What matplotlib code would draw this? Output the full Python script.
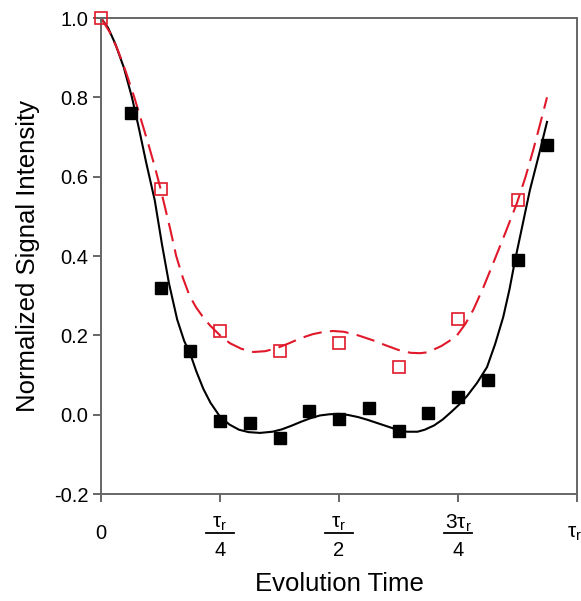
import matplotlib
matplotlib.use("Agg")
import matplotlib.pyplot as plt
from matplotlib.lines import Line2D

plt.rcParams['font.family'] = ['Liberation Sans', 'DejaVu Sans']

# Evolution time in units of the rotor period tau_r
t_filled = [1/16, 2/16, 3/16, 4/16, 5/16, 6/16, 7/16,
            8/16, 9/16, 10/16, 11/16, 12/16, 13/16, 14/16, 15/16]
s_filled = [0.76, 0.32, 0.16, -0.015, -0.02, -0.06, 0.01,
            -0.01, 0.016, -0.04, 0.003, 0.044, 0.087, 0.39, 0.68]

t_open = [0/8, 1/8, 2/8, 3/8, 4/8, 5/8, 6/8, 7/8]
s_open = [1.0, 0.57, 0.21, 0.16, 0.18, 0.12, 0.24, 0.54]

# Fitted curves
fit_black_t = [0.0, 0.015, 0.03, 0.048, 0.065, 0.08, 0.095, 0.113, 0.128, 0.143,
               0.16, 0.175, 0.187, 0.2, 0.215, 0.23, 0.25, 0.27, 0.29, 0.31,
               0.334, 0.36, 0.38, 0.40, 0.42, 0.44, 0.46, 0.48, 0.5, 0.52,
               0.54, 0.56, 0.58, 0.60, 0.62, 0.643, 0.665, 0.68, 0.70, 0.718,
               0.735, 0.752, 0.769, 0.79, 0.811, 0.828, 0.845, 0.858, 0.87, 0.885,
               0.901, 0.92, 0.937]
fit_black_s = [1.0, 0.975, 0.935, 0.875, 0.80, 0.72, 0.635, 0.54, 0.43, 0.33,
               0.24, 0.185, 0.155, 0.11, 0.065, 0.03, -0.005, -0.025, -0.038, -0.044,
               -0.046, -0.043, -0.037, -0.028, -0.018, -0.009, -0.002, 0.001, 0.002, -0.001,
               -0.006, -0.013, -0.021, -0.029, -0.037, -0.043, -0.043, -0.038, -0.027, -0.012,
               0.006, 0.025, 0.047, 0.08, 0.12, 0.178, 0.246, 0.315, 0.39, 0.475,
               0.566, 0.655, 0.738]

fit_red_t = [0.0, 0.018, 0.035, 0.052, 0.07, 0.085, 0.1, 0.113, 0.125, 0.135,
             0.145, 0.158, 0.172, 0.186, 0.2, 0.215, 0.229, 0.25, 0.271, 0.295,
             0.32, 0.345, 0.37, 0.395, 0.42, 0.445, 0.465, 0.487, 0.51, 0.54,
             0.57, 0.6, 0.625, 0.65, 0.67, 0.685, 0.697, 0.715, 0.732, 0.748,
             0.765, 0.782, 0.803, 0.824, 0.85, 0.874, 0.892, 0.908, 0.923, 0.937]
fit_red_s = [1.0, 0.965, 0.92, 0.865, 0.80, 0.74, 0.68, 0.625, 0.57, 0.52,
             0.47, 0.40, 0.345, 0.30, 0.27, 0.245, 0.225, 0.2, 0.18, 0.166,
             0.158, 0.16, 0.168, 0.18, 0.193, 0.203, 0.208, 0.211, 0.209, 0.2,
             0.188, 0.174, 0.163, 0.156, 0.155, 0.157, 0.163, 0.173, 0.186, 0.2,
             0.228, 0.264, 0.32, 0.382, 0.46, 0.534, 0.6, 0.667, 0.735, 0.80]

x_ticks = [0, 0.25, 0.5, 0.75, 1.0]
x_tick_num = ["0", r"$\mathregular{\tau_r}$", r"$\mathregular{\tau_r}$",
              r"$\mathregular{3\tau_r}$", r"$\mathregular{\tau_r}$"]
x_tick_den = ["", "4", "2", "4", ""]
y_ticks = [-0.2, 0.0, 0.2, 0.4, 0.6, 0.8, 1.0]

RED = '#e0182a'
SPINE = '#666666'

fig = plt.figure(figsize=(5.81, 6.01), dpi=100)
ax = fig.add_axes([101 / 581, 1 - 494 / 601, 476 / 581, 476 / 601])

ax.plot(fit_black_t, fit_black_s, color='black', lw=1.5, zorder=2)
ax.plot(fit_red_t, fit_red_s, color=RED, lw=1.5, dashes=(9, 4), zorder=2)
ax.plot(t_filled, s_filled, 's', color='black', ms=9.3, zorder=3,
        clip_on=False)
ax.plot(t_open, s_open, 's', mfc='none', mec=RED, mew=1.2, ms=9.3, zorder=4,
        clip_on=False)

ax.set_xlim(0, 1.0)
ax.set_ylim(-0.2, 1.0)
ax.set_yticks(y_ticks)
ax.set_yticklabels([f"{v:.1f}" for v in y_ticks], fontsize=14.5)
ax.set_xticks(x_ticks)
ax.set_xticklabels([])

for sp in ax.spines.values():
    sp.set_color(SPINE)
    sp.set_linewidth(1.4)
ax.tick_params(axis='both', colors=SPINE, length=6, width=1.4, labelcolor='black')
ax.tick_params(axis='y', pad=3)

# Fractional tick labels below the x axis
trans = ax.get_xaxis_transform()
for xv, num, den in zip(x_ticks, x_tick_num, x_tick_den):
    if den:
        ax.text(xv, -0.062, num, transform=trans, ha='center', va='center',
                fontsize=15, clip_on=False)
        ax.add_line(Line2D([xv - 0.029, xv + 0.029], [-0.082, -0.082],
                           transform=trans, color='black', lw=1.3,
                           clip_on=False))
        ax.text(xv, -0.118, den, transform=trans, ha='center', va='center',
                fontsize=14.5, clip_on=False)
    elif num == "0":
        ax.text(xv, -0.082, num, transform=trans, ha='center', va='center',
                fontsize=14.5, clip_on=False)
    else:
        ax.text(xv - 0.006, -0.082, num, transform=trans, ha='center',
                va='center', fontsize=15, clip_on=False)

ax.set_xlabel("Evolution Time", fontsize=18.5, labelpad=0)
ax.xaxis.set_label_coords(0.5, -0.163)
ax.set_ylabel("Normalized Signal Intensity", fontsize=18.5)
ax.yaxis.set_label_coords(-0.128, 0.5)

fig.savefig("out.png", dpi=100)
